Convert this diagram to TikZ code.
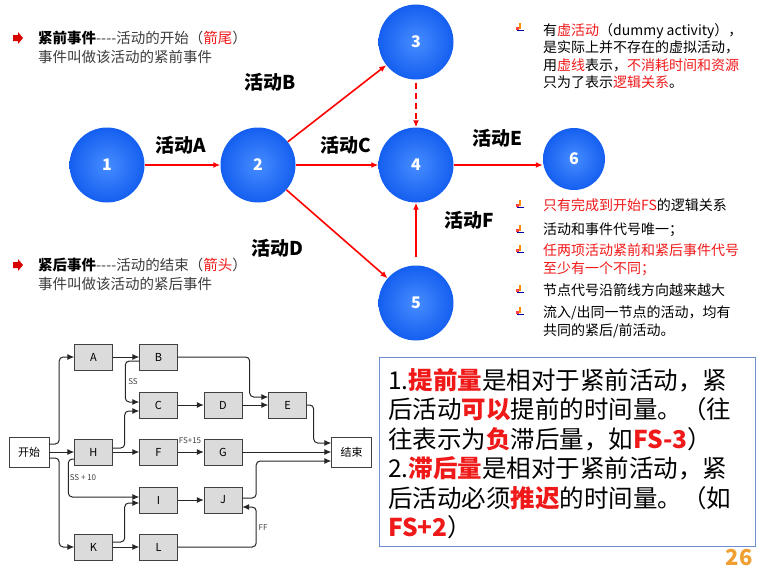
\documentclass[tikz,border=0pt]{standalone}
\usepackage{fontspec}
\setmainfont{Noto Sans CJK SC}
\usetikzlibrary{arrows.meta,positioning}

\definecolor{hilite}{RGB}{240,25,25}
\definecolor{bodygray}{RGB}{60,60,60}
\definecolor{evtblue}{RGB}{20,95,240}
\definecolor{evtlight}{RGB}{70,140,255}
\definecolor{boxblue}{RGB}{110,140,210}
\definecolor{pagenum}{RGB}{240,160,50}

\tikzset{
    tipmark/.pic={
        \fill[orange!90!yellow] (-1.2,-5) rectangle (1.2,1);
        \fill[red!75] (-4,-1) rectangle (-1,1.5);
        \fill[blue!65!black] (-3.5,1.5) rectangle (3.5,3.2);
    },
    arrowmark/.pic={
        \fill[red!85!black] (-5,-3) rectangle (0,3) (0,-6) -- (5,0) -- (0,6) -- cycle;
    }
}

\begin{document}
\begin{tikzpicture}[
    x=1pt, y=-1pt,
    evt/.style={circle, minimum size=75pt, inner sep=0pt, inner color=evtlight, outer color=evtblue,
        text=white, font=\bfseries\fontsize{16}{16}\selectfont},
    flow/.style={draw=red, line width=1.6pt, -{Latex[length=7pt,width=6pt]}},
    actlabel/.style={font=\bfseries\fontsize{19}{19}\selectfont},
    note/.style={anchor=north west, inner sep=0pt, align=left, text=bodygray, font=\fontsize{14.5}{19}\selectfont},
    item/.style={note, text=black, font=\fontsize{14}{18}\selectfont},
    act/.style={draw=black!75, fill=black!14, minimum width=38pt, minimum height=26pt, inner sep=0pt,
        font=\fontsize{11}{11}\selectfont},
    term/.style={act, fill=white, minimum width=40pt, minimum height=30pt},
    link/.style={draw=black!85, line width=1pt, rounded corners=4pt, -{Latex[length=7pt,width=6pt]}},
    lag/.style={font=\fontsize{8}{8}\selectfont, text=black!75, inner sep=1pt}
]
\useasboundingbox (0,0) rectangle (757,573);

% event network
\node[evt] (e1) at (107,165) {1};
\node[evt] (e2) at (258,165) {2};
\node[evt] (e3) at (416,42) {3};
\node[evt] (e4) at (416,165) {4};
\node[evt] (e5) at (416,303) {5};
\node[evt, minimum size=62pt] (e6) at (574,159) {6};

\draw[flow] (e1) -- (e2);
\draw[flow] (e2) -- (e3);
\draw[flow] (e2) -- (e4);
\draw[flow] (e2) -- (e5);
\draw[flow, dash pattern=on 6pt off 4pt, shorten <=3pt] (e3) -- (e4);
\draw[flow] (e4.east) -- (e6.west |- e4.east);
\draw[flow, shorten <=8pt] (e5) -- (e4);

\node[actlabel] (la) at (181,145) {活动A};
\node[actlabel] (lb) at (270,82) {活动B};
\node[actlabel] (lc) at (346,145) {活动C};
\node[actlabel] (ld) at (277,248) {活动D};
\node[actlabel] (le) at (497,138) {活动E};
\node[actlabel] (lf) at (469,220) {活动F};

% notes
\pic at (18,38) {arrowmark};
\node[note] (pre) at (38,31) {\textcolor{black}{\textbf{紧前事件}}-{}-{}-{}-活动的开始（\textcolor{hilite}{箭尾}）\\事件叫做该活动的紧前事件};
\pic at (18,265) {arrowmark};
\node[note] (post) at (38,258) {\textcolor{black}{\textbf{紧后事件}}-{}-{}-{}-活动的结束（\textcolor{hilite}{箭头}）\\事件叫做该活动的紧后事件};

\pic at (520,28) {tipmark};
\node[item, font=\fontsize{14}{17.5}\selectfont] (dummy) at (543,23) {有\textcolor{hilite}{虚活动}（dummy activity），\\是实际上并不存在的虚拟活动，\\用\textcolor{hilite}{虚线}表示，\textcolor{hilite}{不消耗时间和资源}\\只为了表示\textcolor{hilite}{逻辑关系}。};

\foreach \y in {205,230,250,290,312}
    \pic at (520,\y) {tipmark};
\node[item] (r1) at (543,198) {\textcolor{hilite}{只有完成到开始FS}的逻辑关系};
\node[item] (r2) at (543,223) {活动和事件代号唯一；};
\node[item, text=hilite] (r3) at (543,243) {任两项活动紧前和紧后事件代号\\至少有一个不同；};
\node[item] (r4) at (543,283) {节点代号沿箭线方向越来越大};
\node[item] (r5) at (543,305) {流入/出同一节点的活动，均有\\共同的紧后/前活动。};

% precedence network
\node[term] (start) at (29,452) {开始};
\node[term] (finish) at (351.5,452) {结束};
\foreach \n/\x/\y in {A/93.5/357, B/158.5/357, C/158.5/405, D/223/405, E/287.5/405,
                      H/93.5/452, F/158.5/452, G/223/452, I/158.5/500, J/223/500,
                      K/93.5/547, L/158.5/547}
    \node[act] (\n) at (\x,\y) {\n};

\draw[link] ([yshift=8pt]start.east) -- ++(10,0) |- (A.west);
\draw[link] (start.east) -- (H.west);
\draw[link] ([yshift=-6pt]start.east) -- ++(10,0) |- (K.west);
\draw[link] (A) -- (B);
\draw[link] ([yshift=-4pt]B.west) -- ++(-14,0) |- ([yshift=3pt]C.west);
\draw[link] ([yshift=4pt]H.east) -- ++(12,0) |- ([yshift=-6pt]C.west);
\draw[link] (B.east) -- ++(72,0) |- ([yshift=8pt]E.west);
\draw[link] (C) -- (D);
\draw[link] (D) -- (E);
\draw[link] (E.east) -- ++(7,0) |- ([yshift=9pt]finish.west);
\draw[link] (H) -- (F);
\draw[link] (F) -- (G);
\draw[link] (G) -- (finish);
\draw[link] ([yshift=-7pt]H.west) -- ++(-6,0) |- ([yshift=3pt]I.west);
\draw[link] (I) -- (J);
\draw[link] ([yshift=5pt]K.east) -- ++(12,0) |- ([yshift=-3pt]I.west);
\draw[link] (K) -- (L);
\draw[link] ([yshift=2pt]J.east) -- ++(14,0) |- ([yshift=-9pt]finish.west);
\draw[link] (L.east) -| ([xshift=14pt,yshift=-7pt]J.east) -- ([yshift=-7pt]J.east);

\node[lag] (ss) at (133,382) {SS};
\node[lag] (fs) at (190,441) {FS+15};
\node[lag] (ss10) at (83,478) {SS + 10};
\node[lag] (ff) at (263,528) {FF};

% lead and lag
\node[draw=boxblue, line width=1pt, fill=white, minimum width=376pt, minimum height=189pt,
    anchor=north west, inner sep=0pt] (tipbox) at (379,357) {};
\node[anchor=north west, inner sep=0pt, align=left, font=\fontsize{24.5}{29.5}\selectfont] (tiptext) at (388,368)
    {1.\textcolor{hilite}{\textbf{提前量}}是相对于紧前活动，紧\\
     后活动\textcolor{hilite}{\textbf{可以}}提前的时间量。（往\\
     往表示为\textcolor{hilite}{\textbf{负}}滞后量，如\textcolor{hilite}{\textbf{FS-3}}）\\
     2.\textcolor{hilite}{\textbf{滞后量}}是相对于紧前活动，紧\\
     后活动必须\textcolor{hilite}{\textbf{推迟}}的时间量。（如\\
     \textcolor{hilite}{\textbf{FS+2}}）};

\node[text=pagenum, font=\bfseries\fontsize{22}{22}\selectfont] (pageno) at (739,558) {26};
\end{tikzpicture}
\end{document}
